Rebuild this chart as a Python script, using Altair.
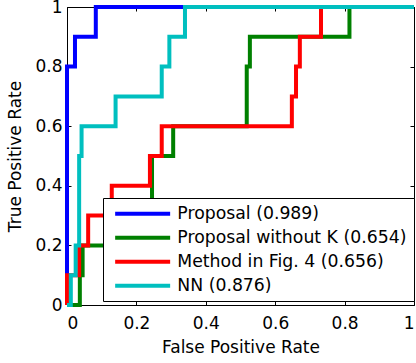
import altair as alt
import pandas as pd

series = ["Proposal (0.989)", "Proposal without K (0.654)",
          "Method in Fig. 4 (0.656)", "NN (0.876)"]
colors = ["#0000FF", "#008000", "#FF0000", "#00BFBF"]
tick_values = [0, 0.2, 0.4, 0.6, 0.8, 1]

fpr_proposal = [0, 0, 0.023, 0.023, 0.083, 0.083, 1]
tpr_proposal = [0, 0.8, 0.8, 0.9, 0.9, 1, 1]

fpr_nok = [0, 0.037, 0.037, 0.045, 0.045, 0.245, 0.245, 0.306, 0.306,
           0.518, 0.518, 0.527, 0.527, 0.814, 0.814, 1]
tpr_nok = [0, 0, 0.1, 0.1, 0.2, 0.2, 0.5, 0.5, 0.6,
           0.6, 0.8, 0.8, 0.9, 0.9, 1, 1]

fpr_fig4 = [0, 0, 0.035, 0.035, 0.061, 0.061, 0.129, 0.129, 0.239, 0.239,
            0.273, 0.273, 0.648, 0.648, 0.66, 0.66, 0.671, 0.671, 0.732, 0.732, 1]
tpr_fig4 = [0, 0.1, 0.1, 0.2, 0.2, 0.3, 0.3, 0.4, 0.4, 0.5,
            0.5, 0.6, 0.6, 0.7, 0.7, 0.8, 0.8, 0.9, 0.9, 1, 1]

fpr_nn = [0, 0.011, 0.011, 0.025, 0.025, 0.035, 0.035, 0.042, 0.042,
          0.14, 0.14, 0.273, 0.273, 0.295, 0.295, 0.34, 0.34, 1]
tpr_nn = [0, 0, 0.1, 0.1, 0.2, 0.2, 0.5, 0.5, 0.6,
          0.6, 0.7, 0.7, 0.8, 0.8, 0.9, 0.9, 1, 1]

rows = []
for name, fx, ty in zip(series,
                        [fpr_proposal, fpr_nok, fpr_fig4, fpr_nn],
                        [tpr_proposal, tpr_nok, tpr_fig4, tpr_nn]):
    for i, (a, b) in enumerate(zip(fx, ty)):
        rows.append({"series": name, "fpr": a, "tpr": b, "idx": i})
df = pd.DataFrame(rows)

FONT = "DejaVu Sans"
xscale = alt.Scale(domain=[0, 1], nice=False, zero=False)
yscale = alt.Scale(domain=[0, 1], nice=False, zero=False)

base = alt.Chart(df)

lines = base.mark_line(strokeWidth=4, strokeJoin="miter", strokeCap="butt").encode(
    x=alt.X("fpr:Q", scale=xscale,
            axis=alt.Axis(orient="bottom", values=tick_values, format="~g",
                          title="False Positive Rate", grid=False, domain=False,
                          tickSize=4, offset=-4, tickColor="black", labelPadding=10,
                          labelFontSize=17, titleFontSize=17, titleFontWeight="normal",
                          titleBaseline="alphabetic", titleY=51,
                          labelColor="black", titleColor="black")),
    y=alt.Y("tpr:Q", scale=yscale,
            axis=alt.Axis(orient="left", values=tick_values, format="~g",
                          title="True Positive Rate", grid=False, domain=False,
                          tickSize=4, offset=-4, tickColor="black", labelPadding=5,
                          labelFontSize=17, titleFontSize=17, titleFontWeight="normal",
                          titleAngle=270, titleBaseline="alphabetic", titleX=-51,
                          labelColor="black", titleColor="black")),
    color=alt.Color("series:N", scale=alt.Scale(domain=series, range=colors),
                    legend=alt.Legend(title=None, orient="none", legendX=36, legendY=191,
                                      direction="vertical",
                                      symbolType="M-4.23,0H4.23", symbolSize=169,
                                      symbolStrokeWidth=4, symbolOffset=24,
                                      labelOffset=26, labelFontSize=17.3, labelFont=FONT,
                                      labelColor="black", labelLimit=400,
                                      padding=7, rowPadding=6,
                                      strokeColor="black", fillColor="white")),
    order=alt.Order("idx:Q"),
)

mirror = base.mark_line(opacity=0).encode(
    x=alt.X("fpr:Q", scale=xscale,
            axis=alt.Axis(orient="top", values=tick_values, labels=False, title=None,
                          grid=False, domain=False, tickSize=4, offset=-4,
                          tickColor="black")),
    y=alt.Y("tpr:Q", scale=yscale,
            axis=alt.Axis(orient="right", values=tick_values, labels=False, title=None,
                          grid=False, domain=False, tickSize=4, offset=-4,
                          tickColor="black")),
    detail="series:N",
    order=alt.Order("idx:Q"),
)

chart = alt.layer(lines, mirror).resolve_axis(
    x="independent", y="independent"
).properties(
    width=347, height=298,
    autosize=alt.AutoSizeParams(type="none"),
    padding={"left": 67, "top": 7, "right": 2, "bottom": 58},
).configure(
    font=FONT,
).configure_view(
    stroke="black", strokeWidth=1
).configure_axis(
    labelFont=FONT, titleFont=FONT
)

chart.save("out.html", embed_options={"renderer": "svg", "actions": False})
